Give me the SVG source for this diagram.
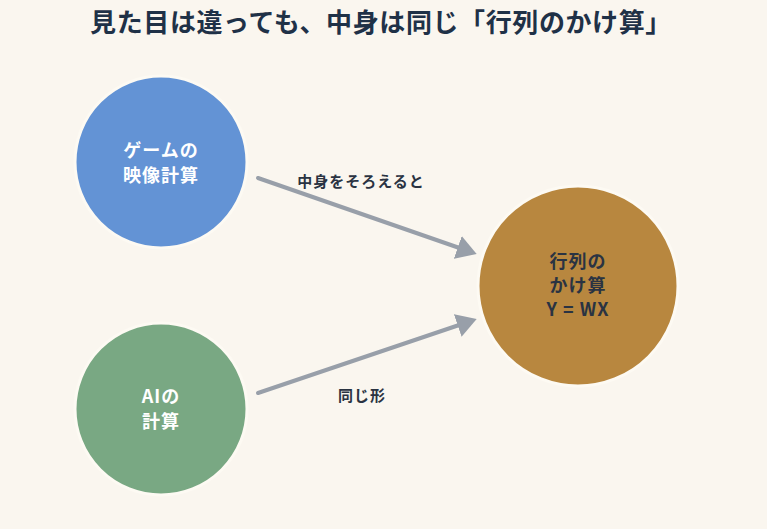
<svg xmlns="http://www.w3.org/2000/svg" width="767" height="529" viewBox="0 0 767 529">
<defs>
<style>
text{font-family:"Noto Sans CJK JP","Noto Sans",sans-serif;font-weight:bold;text-anchor:middle}
.title{font-size:26px;fill:#1f3147;letter-spacing:0.6px}
.node{stroke:#fdfaf3;stroke-width:3}
.wt{font-size:18px;fill:#ffffff;letter-spacing:1px}
.dk{font-size:18px;fill:#2a3342;letter-spacing:1px}
.lbl{font-size:15px;fill:#2a3342;letter-spacing:1px}
.edge{stroke:#989fa9;stroke-width:4;stroke-linecap:round;fill:none}
</style>
<marker id="ah" markerWidth="6" markerHeight="6" refX="3.5" refY="3" orient="auto" markerUnits="strokeWidth">
<path d="M0,0 L5,3 L0,6 Z" fill="#989fa9"/>
</marker>
</defs>
<rect width="767" height="529" fill="#faf6ef"/>
<text class="title" x="381" y="32">見た目は違っても、中身は同じ「行列のかけ算」</text>
<g id="connectors">
<line class="edge" x1="258" y1="178" x2="471" y2="252" marker-end="url(#ah)"/>
<line class="edge" x1="258" y1="393" x2="471" y2="321" marker-end="url(#ah)"/>
<text class="lbl" x="361" y="187">中身をそろえると</text>
<text class="lbl" x="362" y="401">同じ形</text>
</g>
<g id="game">
<circle class="node" cx="161" cy="162" r="86" fill="#6393d5"/>
<text class="wt" x="161" y="157">ゲームの</text>
<text class="wt" x="161" y="182">映像計算</text>
</g>
<g id="ai">
<circle class="node" cx="161" cy="409" r="86" fill="#79a883"/>
<text class="wt" x="161" y="403">AIの</text>
<text class="wt" x="161" y="428">計算</text>
</g>
<g id="matrix">
<circle class="node" cx="578" cy="286" r="100" fill="#b8873f"/>
<text class="dk" x="578" y="268">行列の</text>
<text class="dk" x="578" y="292">かけ算</text>
<text class="dk" x="578" y="316">Y = WX</text>
</g>
</svg>
